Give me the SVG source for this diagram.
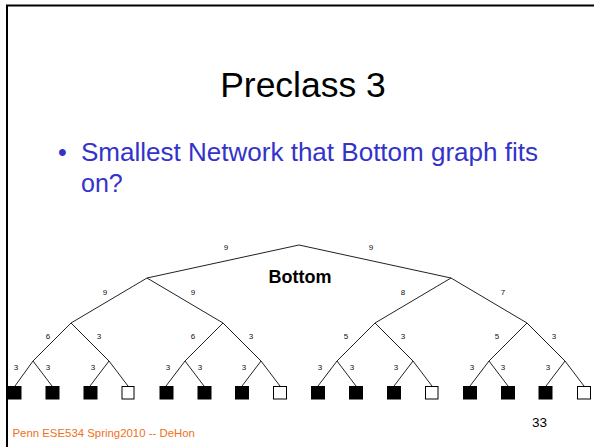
<svg xmlns="http://www.w3.org/2000/svg" width="594" height="447" viewBox="0 0 594 447">
<style>
.e{stroke:#222;stroke-width:1;fill:none}
.l{font-family:"Liberation Sans",Arial,sans-serif;font-size:8px;fill:#111;text-anchor:middle}
.f{fill:#000;stroke:#000;stroke-width:1}
.w{fill:#fff;stroke:#000;stroke-width:1}
.b{font-family:"Liberation Sans",Arial,sans-serif;font-size:25px;fill:#3333cc}
</style>
<rect width="594" height="447" fill="#fff"/>
<path d="M7,447 V5.5 H594" stroke="#000" stroke-width="2" fill="none"/>
<text x="303" y="97" font-family="'Liberation Sans',Arial,sans-serif" font-size="35.5" text-anchor="middle" fill="#000">Preclass 3</text>
<text class="b" x="58" y="161">•</text>
<text class="b" x="81" y="161" textLength="457" lengthAdjust="spacingAndGlyphs">Smallest Network that Bottom graph fits</text>
<text class="b" x="81" y="192">on?</text>
<text x="300" y="283" font-family="'Liberation Sans',Arial,sans-serif" font-size="18" font-weight="bold" text-anchor="middle" fill="#000">Bottom</text>
<g id="connectors">
<path class="e" d="M299,245 L147,278 M299,245 L451,278"/>
<path class="e" d="M147,278 L71,323 M147,278 L223,323 M451,278 L375,323 M451,278 L527,323"/>
<path class="e" d="M71,323 L33,361 M71,323 L109,361 M223,323 L185,361 M223,323 L261,361 M375,323 L337,361 M375,323 L413,361 M527,323 L489,361 M527,323 L565,361"/>
<path class="e" d="M33,361 L15,386 M33,361 L52,386 M109,361 L90,386 M109,361 L128,386 M185,361 L166,386 M185,361 L204,386 M261,361 L242,386 M261,361 L280,386 M337,361 L318,386 M337,361 L356,386 M413,361 L394,386 M413,361 L432,386 M489,361 L470,386 M489,361 L508,386 M565,361 L546,386 M565,361 L584,386"/>
</g>
<g id="labels">
<text class="l" x="226" y="250">9</text>
<text class="l" x="371" y="250">9</text>
<text class="l" x="105" y="295">9</text>
<text class="l" x="193" y="295">9</text>
<text class="l" x="403" y="295">8</text>
<text class="l" x="503" y="295">7</text>
<text class="l" x="48" y="339">6</text>
<text class="l" x="99" y="339">3</text>
<text class="l" x="193" y="339">6</text>
<text class="l" x="251" y="339">3</text>
<text class="l" x="346" y="339">5</text>
<text class="l" x="403" y="339">3</text>
<text class="l" x="497" y="339">5</text>
<text class="l" x="554" y="339">3</text>
<text class="l" x="16" y="370">3</text>
<text class="l" x="48" y="370">3</text>
<text class="l" x="93" y="370">3</text>
<text class="l" x="168" y="370">3</text>
<text class="l" x="200" y="370">3</text>
<text class="l" x="244" y="370">3</text>
<text class="l" x="320" y="370">3</text>
<text class="l" x="352" y="370">3</text>
<text class="l" x="396" y="370">3</text>
<text class="l" x="472" y="370">3</text>
<text class="l" x="503" y="370">3</text>
<text class="l" x="548" y="370">3</text>
</g>
<g id="leaves">
<rect id="leaf1" class="f" x="8" y="386.5" width="13" height="12.5"/>
<rect id="leaf2" class="f" x="46" y="386.5" width="13" height="12.5"/>
<rect id="leaf3" class="f" x="84" y="386.5" width="13" height="12.5"/>
<rect id="leaf4" class="w" x="122" y="386.5" width="12" height="12.5"/>
<rect id="leaf5" class="f" x="160" y="386.5" width="13" height="12.5"/>
<rect id="leaf6" class="f" x="198" y="386.5" width="13" height="12.5"/>
<rect id="leaf7" class="f" x="235.5" y="386.5" width="13" height="12.5"/>
<rect id="leaf8" class="w" x="273.5" y="386.5" width="13" height="12.5"/>
<rect id="leaf9" class="f" x="311.5" y="386.5" width="13" height="12.5"/>
<rect id="leaf10" class="f" x="349.5" y="386.5" width="13" height="12.5"/>
<rect id="leaf11" class="f" x="387.5" y="386.5" width="13" height="12.5"/>
<rect id="leaf12" class="w" x="425.5" y="386.5" width="12.5" height="12.5"/>
<rect id="leaf13" class="f" x="463.5" y="386.5" width="13" height="12.5"/>
<rect id="leaf14" class="f" x="501.5" y="386.5" width="13" height="12.5"/>
<rect id="leaf15" class="f" x="539" y="386.5" width="13" height="12.5"/>
<rect id="leaf16" class="w" x="577.5" y="386.5" width="13" height="12.5"/>
</g>
<text x="532" y="427" font-family="'Liberation Sans',Arial,sans-serif" font-size="13.5" fill="#000">33</text>
<text x="12.5" y="437" font-family="'Liberation Sans',Arial,sans-serif" font-size="11.4" fill="#f07020">Penn ESE534 Spring2010 -- DeHon</text>
</svg>
